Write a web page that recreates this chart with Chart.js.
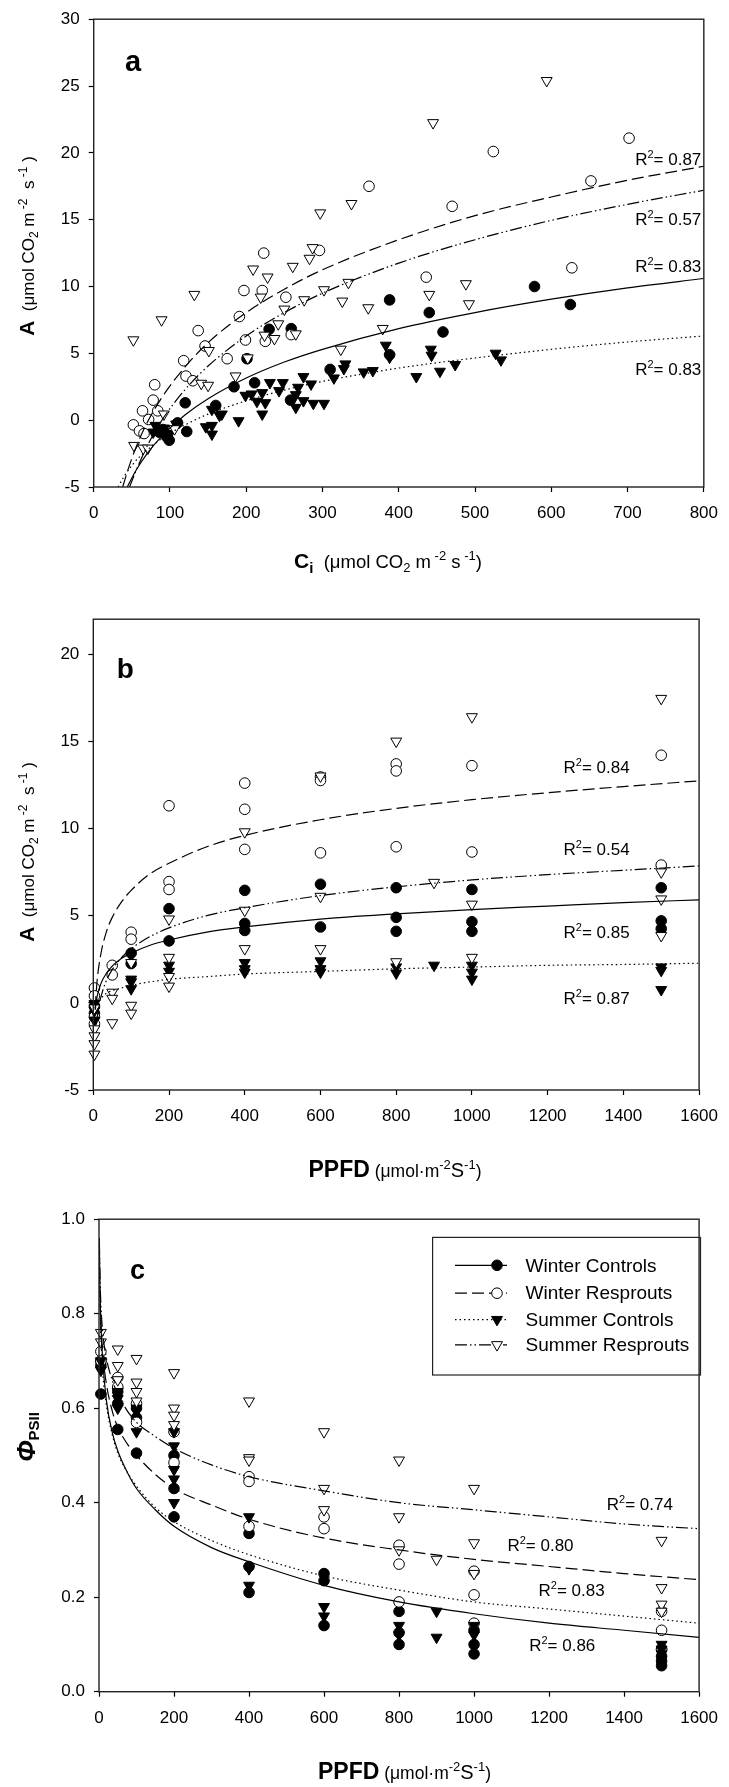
<!DOCTYPE html>
<html>
<head>
<meta charset="utf-8">
<script src="https://cdn.jsdelivr.net/npm/chart.js@4.4.1/dist/chart.umd.min.js"></script>
<style>
  body { margin: 0; background: #fff; width: 729px; height: 1787px; position: relative; overflow: hidden; }
  .pane { position: absolute; left: 0; width: 729px; }
</style>
</head>
<body>
<div class="pane" style="top:0;height:600px"><canvas id="chA" width="729" height="600"></canvas></div>
<div class="pane" style="top:600px;height:600px"><canvas id="chB" width="729" height="600"></canvas></div>
<div class="pane" style="top:1200px;height:587px"><canvas id="chC" width="729" height="587"></canvas></div>
<script>
// ── DATA : panel a, A vs Ci ───────────────────────────
const ciWinterControls = [[86,-0.9],[91,-0.7],[95,-1.2],[99,-1.5],[110,-0.2],[122,-0.85],[120,1.3],[160,1.1],[184,2.5],
  [201,4.6],[211,2.8],[230,6.8],[259,6.85],[258,1.5],[310,3.8],[388,9.0],[388,4.9],[440,8.05],[458,6.6],[578,10.0],[625,8.65]];
const ciWinterResprouts = [[52,-0.35],[60,-0.8],[66,-1.0],[64,0.7],[72,0.05],[78,1.5],[80,2.65],[84,0.7],[118,4.45],[121,3.3],
  [130,2.95],[137,6.7],[146,5.55],[175,4.6],[191,7.75],[197,9.7],[199,6.0],[221,9.7],[223,12.5],[225,5.9],[252,9.2],[259,6.4],
  [296,12.7],[361,17.5],[436,10.7],[470,16.0],[524,20.1],[627,11.4],[652,17.9],[702,21.1]];
const ciSummerControls = [[78,-0.9],[85,-0.8],[81,-0.4],[92,-0.6],[100,-1.0],[108,-0.3],[147,-0.5],[155,-0.4],[155,-1.05],
  [165,0.35],[155,0.8],[168,0.45],[190,-0.05],[199,1.85],[207,1.95],[214,1.4],[221,2.05],[221,0.45],[225,1.3],[231,2.8],
  [243,2.2],[248,2.8],[265,1.9],[268,2.45],[265,0.95],[275,3.25],[275,1.45],[285,2.7],[288,1.25],[302,1.25],[315,3.15],
  [328,3.85],[330,4.2],[354,3.6],[366,3.7],[383,5.6],[388,4.7],[423,3.25],[442,5.3],[443,4.85],[454,3.65],[474,4.15],
  [527,5.0],[534,4.5]];
const ciSummerResprouts = [[52,6.0],[53,-1.9],[65,-2.1],[71,-2.1],[89,7.5],[92,0.45],[106,-0.65],[132,9.4],[141,2.75],
  [150,2.6],[151,5.2],[186,3.3],[202,4.65],[209,11.3],[219,9.2],[224,6.35],[228,10.7],[237,6.1],[242,7.2],[250,8.3],
  [261,11.5],[265,6.45],[276,9.0],[283,12.1],[287,12.9],[297,15.5],[302,9.75],[324,5.3],[326,8.9],[334,10.3],[338,16.2],
  [360,8.4],[379,6.85],[440,9.4],[445,22.25],[488,10.2],[492,8.7],[594,25.4]];
// fitted curves
const ciFitWinterControls = [[44,-5],[55,-3.8],[70,-2.5],[90,-1.15],[120,0.4],[150,1.6],[200,3.15],[250,4.35],[300,5.3],
  [400,6.85],[500,8.05],[600,9.05],[700,9.9],[800,10.6]];
const ciFitWinterResprouts = [[38,-5],[45,-3.7],[55,-2.1],[70,-0.2],[90,1.75],[120,4.0],[150,5.8],[200,8.05],[250,9.8],
  [300,11.25],[400,13.5],[500,15.3],[600,16.7],[700,17.95],[800,19.0]];
const ciFitSummerControls = [[32,-5],[40,-4.2],[50,-3.4],[60,-2.75],[75,-2.0],[90,-1.35],[120,-0.35],[150,0.45],[200,1.45],
  [250,2.25],[300,2.9],[400,3.9],[500,4.65],[600,5.3],[700,5.85],[800,6.3]];
const ciFitSummerResprouts = [[47,-5],[55,-3.85],[70,-1.95],[90,0.05],[120,2.3],[150,4.05],[200,6.3],[250,8.05],[300,9.5],
  [400,11.75],[500,13.5],[600,14.95],[700,16.15],[800,17.2]];
const ciR2 = [['0.87',710,19.55],['0.57',710,15.05],['0.83',710,11.5],['0.83',710,3.8]];

// ── DATA : panel b, A vs PPFD ─────────────────────────
const ppfdAWinterControls = [[3,-0.2],[3,-0.6],[100,2.85],[100,2.25],[200,5.4],[200,3.55],[400,6.45],[400,4.55],[400,4.15],
  [600,6.8],[600,4.35],[800,6.6],[800,4.9],[800,4.1],[1000,6.5],[1000,4.65],[1000,4.1],[1500,6.6],[1500,4.7],[1500,4.25]];
const ppfdAWinterResprouts = [[3,0.85],[3,0.4],[3,-0.8],[3,-1.2],[50,2.15],[50,1.6],[100,4.05],[100,3.65],[200,11.3],
  [200,6.95],[200,6.5],[400,12.6],[400,11.1],[400,8.8],[600,12.95],[600,12.75],[600,8.6],[800,13.7],[800,13.3],[800,8.95],
  [1000,13.6],[1000,8.65],[1500,14.2],[1500,7.9]];
const ppfdASummerControls = [[3,-0.05],[3,-0.45],[3,-1.0],[100,1.35],[100,1.2],[100,0.8],[200,2.15],[200,1.8],[400,2.3],
  [400,1.95],[400,1.75],[600,2.4],[600,1.95],[600,1.75],[800,2.05],[800,1.7],[900,2.15],[1000,2.15],[1000,1.75],[1000,1.35],
  [1500,2.05],[1500,1.85],[1500,0.75]];
const ppfdASummerResprouts = [[3,-0.3],[3,-1.5],[3,-1.9],[3,-2.35],[3,-2.95],[50,0.6],[50,0.25],[50,-1.15],[100,2.3],
  [100,-0.15],[100,-0.6],[200,4.8],[200,2.6],[200,1.5],[200,0.95],[400,9.8],[400,5.3],[400,3.1],[600,13.0],[600,6.1],
  [600,3.1],[800,15.0],[800,2.35],[900,6.9],[1000,16.4],[1000,5.65],[1000,2.6],[1500,17.45],[1500,7.5],[1500,5.95],[1500,3.85]];
const ppfdAFitWinterControls = [[5,-0.4],[10,0.35],[20,1.1],[35,1.7],[50,2.1],[75,2.55],[100,2.85],[150,3.3],[200,3.6],
  [300,4.05],[400,4.35],[600,4.8],[800,5.1],[1000,5.35],[1200,5.55],[1400,5.75],[1600,5.9]];
const ppfdAFitWinterResprouts = [[5,-0.3],[10,1.25],[20,2.8],[35,4.1],[50,4.9],[75,5.8],[100,6.45],[150,7.4],[200,8.0],
  [300,8.95],[400,9.6],[600,10.5],[800,11.15],[1000,11.65],[1200,12.05],[1400,12.4],[1600,12.73]];
const ppfdAFitSummerControls = [[5,-0.35],[10,-0.05],[20,0.25],[35,0.55],[50,0.7],[75,0.85],[100,1.0],[150,1.2],[200,1.35],
  [300,1.5],[400,1.65],[600,1.8],[800,1.95],[1000,2.05],[1200,2.15],[1400,2.2],[1600,2.27]];
const ppfdAFitSummerResprouts = [[8,-1.25],[15,-0.15],[25,0.7],[35,1.3],[50,1.9],[75,2.6],[100,3.1],[150,3.8],[200,4.3],
  [300,5.0],[400,5.45],[600,6.15],[800,6.65],[1000,7.05],[1200,7.35],[1400,7.6],[1600,7.85]];
const ppfdAR2 = [['0.84',1242,13.5],['0.54',1242,8.8],['0.85',1242,4.05],['0.87',1242,0.25]];

// ── DATA : panel c, PhiPSII vs PPFD ───────────────────
const phiWinterControls = [[5,0.63],[5,0.69],[5,0.70],[50,0.555],[50,0.61],[50,0.635],[100,0.505],[100,0.58],[100,0.60],
  [200,0.37],[200,0.43],[200,0.50],[400,0.21],[400,0.265],[400,0.335],[600,0.14],[600,0.235],[600,0.25],[800,0.10],
  [800,0.125],[800,0.17],[1000,0.08],[1000,0.10],[1000,0.13],[1500,0.055],[1500,0.065],[1500,0.075],[1500,0.09]];
const phiWinterResprouts = [[5,0.72],[5,0.70],[50,0.665],[50,0.645],[100,0.57],[100,0.61],[200,0.55],[200,0.485],
  [400,0.455],[400,0.445],[400,0.35],[600,0.37],[600,0.345],[800,0.31],[800,0.27],[800,0.19],[1000,0.255],[1000,0.205],
  [1000,0.145],[1500,0.13],[1500,0.17],[1500,0.09]];
const phiSummerControls = [[5,0.68],[5,0.70],[50,0.60],[50,0.62],[50,0.635],[100,0.55],[100,0.60],[200,0.40],[200,0.45],
  [200,0.47],[200,0.52],[200,0.55],[400,0.37],[400,0.26],[400,0.225],[600,0.16],[600,0.18],[800,0.12],[800,0.14],
  [900,0.17],[900,0.115],[1000,0.12],[1000,0.14],[1500,0.10],[1500,0.09],[1500,0.08]];
const phiSummerResprouts = [[5,0.76],[5,0.74],[50,0.725],[50,0.69],[50,0.66],[100,0.705],[100,0.655],[100,0.635],
  [100,0.615],[200,0.675],[200,0.60],[200,0.585],[200,0.565],[400,0.615],[400,0.495],[400,0.49],[600,0.55],[600,0.43],
  [600,0.385],[800,0.49],[800,0.37],[800,0.30],[900,0.28],[1000,0.43],[1000,0.315],[1000,0.25],[1500,0.32],[1500,0.22],
  [1500,0.185],[1500,0.17]];
const phiFitWinterControls = [[1,0.96],[2,0.88],[5,0.78],[10,0.70],[20,0.615],[35,0.55],[50,0.51],[75,0.465],[100,0.43],
  [150,0.385],[200,0.35],[300,0.305],[400,0.275],[600,0.225],[800,0.19],[1000,0.165],[1200,0.145],[1400,0.13],[1600,0.115]];
const phiFitWinterResprouts = [[1,0.93],[2,0.865],[5,0.78],[10,0.715],[20,0.65],[35,0.595],[50,0.56],[75,0.525],[100,0.5],
  [150,0.46],[200,0.43],[300,0.395],[400,0.365],[600,0.325],[800,0.3],[1000,0.28],[1200,0.265],[1400,0.25],[1600,0.237]];
const phiFitSummerControls = [[1,0.915],[2,0.845],[5,0.75],[10,0.675],[20,0.605],[35,0.545],[50,0.505],[75,0.465],
  [100,0.435],[150,0.39],[200,0.36],[300,0.32],[400,0.29],[600,0.245],[800,0.215],[1000,0.19],[1200,0.175],[1400,0.16],[1600,0.145]];
const phiFitSummerResprouts = [[1,0.95],[2,0.895],[5,0.82],[10,0.76],[20,0.705],[35,0.66],[50,0.63],[75,0.595],[100,0.57],
  [150,0.54],[200,0.515],[300,0.48],[400,0.455],[600,0.425],[800,0.4],[1000,0.385],[1200,0.37],[1400,0.355],[1600,0.345]];
const phiR2 = [['0.74',1354,0.398],['0.80',1089,0.31],['0.83',1172,0.216],['0.86',1147,0.098]];

const legendLabels = ['Winter Controls', 'Winter Resprouts', 'Summer Controls', 'Summer Resprouts'];

// ── STYLE ─────────────────────────────────────────────
const FF = '"Liberation Sans", Arial, Helvetica, sans-serif';
const fnt = (px, w = '') => `${w} ${px}px ${FF}`.trim();
const SERIES = [
  { shape: 'circle',   fill: '#000', dash: [] },
  { shape: 'circle',   fill: '#fff', dash: [12, 5] },
  { shape: 'triangle', fill: '#000', dash: [1.5, 3] },
  { shape: 'triangle', fill: '#fff', dash: [12, 3, 1.5, 3, 1.5, 3] },
];

const toXY = arr => arr.map(([x, y]) => ({ x, y }));

function pointDs(arr, st) {
  const tri = st.shape === 'triangle';
  return {
    type: 'scatter', data: toXY(arr), showLine: false, clip: false,
    pointStyle: st.shape, rotation: tri ? 180 : 0, pointRadius: tri ? 6.3 : 5.3,
    backgroundColor: st.fill, borderColor: '#000', borderWidth: 1,
  };
}
function fitDs(arr, st) {
  return {
    type: 'line', data: toXY(arr), borderColor: '#000', borderWidth: 1.2, borderDash: st.dash,
    pointRadius: 0, cubicInterpolationMode: 'monotone', fill: false,
  };
}

// ── TEXT HELPERS ──────────────────────────────────────
function richWidth(ctx, segs) {
  let w = 0;
  for (const s of segs) { ctx.font = s.f; w += ctx.measureText(s.t).width; }
  return w;
}
function drawRich(ctx, segs, x, y, align = 'left') {
  let cx = align === 'center' ? x - richWidth(ctx, segs) / 2 : x;
  ctx.textAlign = 'left'; ctx.textBaseline = 'alphabetic';
  for (const s of segs) {
    ctx.font = s.f;
    ctx.fillText(s.t, cx, y + (s.dy || 0));
    cx += ctx.measureText(s.t).width;
  }
}
const r2Segs = v => [{ t: 'R', f: fnt(17) }, { t: '2', f: fnt(11), dy: -7 }, { t: '= ' + v, f: fnt(17) }];

const titleA = [{ t: 'A', f: fnt(21, 'bold') }, { t: '  (\u03bcmol CO', f: fnt(17) }, { t: '2', f: fnt(12), dy: 4 },
  { t: ' m', f: fnt(17) }, { t: ' -2', f: fnt(12), dy: -7 }, { t: '  s', f: fnt(17) }, { t: ' -1', f: fnt(12), dy: -7 },
  { t: ' )', f: fnt(17) }];
const titleCi = [{ t: 'C', f: fnt(21, 'bold') }, { t: 'i', f: fnt(15, 'bold'), dy: 5 }, { t: '  (\u03bcmol CO', f: fnt(18.5) },
  { t: '2', f: fnt(13), dy: 4 }, { t: ' m', f: fnt(18.5) }, { t: ' -2', f: fnt(13), dy: -8 }, { t: ' s', f: fnt(18.5) },
  { t: ' -1', f: fnt(13), dy: -8 }, { t: ')', f: fnt(18.5) }];
const titlePPFD = [{ t: 'PPFD', f: fnt(23, 'bold') }, { t: ' (\u03bcmol\u00b7m', f: fnt(17.5) }, { t: '-2', f: fnt(13), dy: -8 },
  { t: 'S', f: fnt(20) }, { t: '-1', f: fnt(13), dy: -8 }, { t: ')', f: fnt(17.5) }];
const titlePhi = [{ t: '\u03a6', f: fnt(26, 'italic bold') }, { t: 'PSII', f: fnt(15, 'bold'), dy: 4 }];

// ── DECORATION PLUGIN: frame, titles, labels, legend ──
const decor = {
  id: 'decor',
  afterDraw(chart, args, o) {
    const { ctx, chartArea: ca, scales: { x, y } } = chart;
    ctx.save();
    ctx.strokeStyle = '#222'; ctx.lineWidth = 1.4; ctx.setLineDash([]);
    ctx.strokeRect(ca.left, ca.top, ca.right - ca.left, ca.bottom - ca.top);
    ctx.fillStyle = '#000';
    // panel letter
    ctx.font = fnt(o.letterSize, 'bold'); ctx.textAlign = 'left'; ctx.textBaseline = 'alphabetic';
    ctx.fillText(o.letter, o.letterPos[0], o.letterPos[1]);
    // R2 labels
    for (const [v, dx, dy] of o.r2) drawRich(ctx, r2Segs(v), x.getPixelForValue(dx), y.getPixelForValue(dy) + 6);
    // x title
    drawRich(ctx, o.xTitle, o.xTitlePos[0], o.xTitlePos[1], 'center');
    // y title (rotated)
    ctx.save();
    ctx.translate(o.yTitlePos[0], o.yTitlePos[1]);
    ctx.rotate(-Math.PI / 2);
    drawRich(ctx, o.yTitle, 0, 7, 'center');
    ctx.restore();
    // legend
    if (o.legend) {
      const L = o.legend;
      ctx.lineWidth = 1.2; ctx.strokeStyle = '#222';
      ctx.strokeRect(L.box[0], L.box[1], L.box[2] - L.box[0], L.box[3] - L.box[1]);
      legendLabels.forEach((lab, i) => {
        const st = SERIES[i], ly = L.rows[i];
        ctx.strokeStyle = '#000'; ctx.lineWidth = 1.2; ctx.setLineDash(st.dash);
        ctx.beginPath(); ctx.moveTo(L.line[0], ly); ctx.lineTo(L.line[1], ly); ctx.stroke();
        ctx.setLineDash([]);
        ctx.fillStyle = st.fill; ctx.lineWidth = 1;
        ctx.beginPath();
        if (st.shape === 'circle') ctx.arc(L.marker, ly, 5.3, 0, Math.PI * 2);
        else {
          const r = 6.3;
          ctx.moveTo(L.marker - r * 0.866, ly - r * 0.5);
          ctx.lineTo(L.marker + r * 0.866, ly - r * 0.5);
          ctx.lineTo(L.marker, ly + r);
          ctx.closePath();
        }
        ctx.fill(); ctx.stroke();
        ctx.fillStyle = '#000'; ctx.font = fnt(19); ctx.textBaseline = 'middle';
        ctx.fillText(lab, L.text, ly + 1);
        ctx.textBaseline = 'alphabetic';
      });
    }
    ctx.restore();
  }
};

function makeChart(id, cfg) {
  const datasets = [
    ...cfg.fits.map((f, i) => fitDs(f, SERIES[i])),
    ...cfg.points.map((p, i) => pointDs(p, SERIES[i])).reverse(),
  ];
  const tickFont = { family: FF, size: 17 };
  return new Chart(document.getElementById(id), {
    type: 'scatter',
    data: { datasets },
    plugins: [decor],
    options: {
      responsive: false, animation: false, events: [],
      layout: { padding: { left: 0, right: cfg.padRight, top: cfg.padTop, bottom: 0 } },
      plugins: { legend: { display: false }, tooltip: { enabled: false }, decor: cfg.decor },
      scales: {
        x: {
          type: 'linear', min: cfg.xMin, max: cfg.xMax,
          ticks: { stepSize: cfg.xStep, color: '#000', font: tickFont, padding: 11, maxRotation: 0, callback: v => String(v) },
          grid: { drawOnChartArea: false, drawTicks: true, tickLength: 5, tickColor: '#000', tickWidth: 1.2 },
          border: { display: false },
          afterFit: s => { s.height = cfg.xHeight; },
        },
        y: {
          type: 'linear', min: cfg.yMin, max: cfg.yMax,
          ticks: { stepSize: cfg.yStep, color: '#000', font: tickFont, padding: 9, callback: cfg.yFmt },
          grid: { drawOnChartArea: false, drawTicks: true, tickLength: 5, tickColor: '#000', tickWidth: 1.2 },
          border: { display: false },
          afterBuildTicks: s => { s.ticks = s.ticks.filter(t => Math.abs(t.value / cfg.yStep - Math.round(t.value / cfg.yStep)) < 1e-6); },
          afterFit: s => { s.width = cfg.yWidth; },
        },
      },
    },
  });
}

// ── PANELS ────────────────────────────────────────────
makeChart('chA', {
  points: [ciWinterControls, ciWinterResprouts, ciSummerControls, ciSummerResprouts],
  fits: [ciFitWinterControls, ciFitWinterResprouts, ciFitSummerControls, ciFitSummerResprouts],
  xMin: 0, xMax: 800, xStep: 100, yMin: -5, yMax: 30, yStep: 5, yFmt: v => String(v),
  padTop: 13.7, padRight: 22.3, yWidth: 93.7, xHeight: 113,
  decor: { letter: 'a', letterSize: 29, letterPos: [125, 70.7], r2: ciR2,
    xTitle: titleCi, xTitlePos: [388, 568], yTitle: titleA, yTitlePos: [27, 246] },
});

makeChart('chB', {
  points: [ppfdAWinterControls, ppfdAWinterResprouts, ppfdASummerControls, ppfdASummerResprouts],
  fits: [ppfdAFitWinterControls, ppfdAFitWinterResprouts, ppfdAFitSummerControls, ppfdAFitSummerResprouts],
  xMin: 0, xMax: 1600, xStep: 200, yMin: -5, yMax: 22, yStep: 5, yFmt: v => String(v),
  padTop: 15, padRight: 24, yWidth: 93.3, xHeight: 110,
  decor: { letter: 'b', letterSize: 28, letterPos: [116.7, 78], r2: ppfdAR2,
    xTitle: titlePPFD, xTitlePos: [395, 577], yTitle: titleA, yTitlePos: [27, 252] },
});

makeChart('chC', {
  points: [phiWinterControls, phiWinterResprouts, phiSummerControls, phiSummerResprouts],
  fits: [phiFitWinterControls, phiFitWinterResprouts, phiFitSummerControls, phiFitSummerResprouts],
  xMin: 0, xMax: 1600, xStep: 200, yMin: 0, yMax: 1, yStep: 0.2, yFmt: v => v.toFixed(1),
  padTop: 16.7, padRight: 19, yWidth: 99, xHeight: 95.3,
  decor: { letter: 'c', letterSize: 27, letterPos: [130, 79], r2: phiR2,
    xTitle: titlePPFD, xTitlePos: [404.5, 579], yTitle: titlePhi, yTitlePos: [28, 237],
    legend: { box: [432.6, 37.4, 700.5, 175], rows: [65.3, 93.2, 119.6, 144.8], line: [455, 507], marker: 497, text: 525.6 } },
});
</script>
</body>
</html>
